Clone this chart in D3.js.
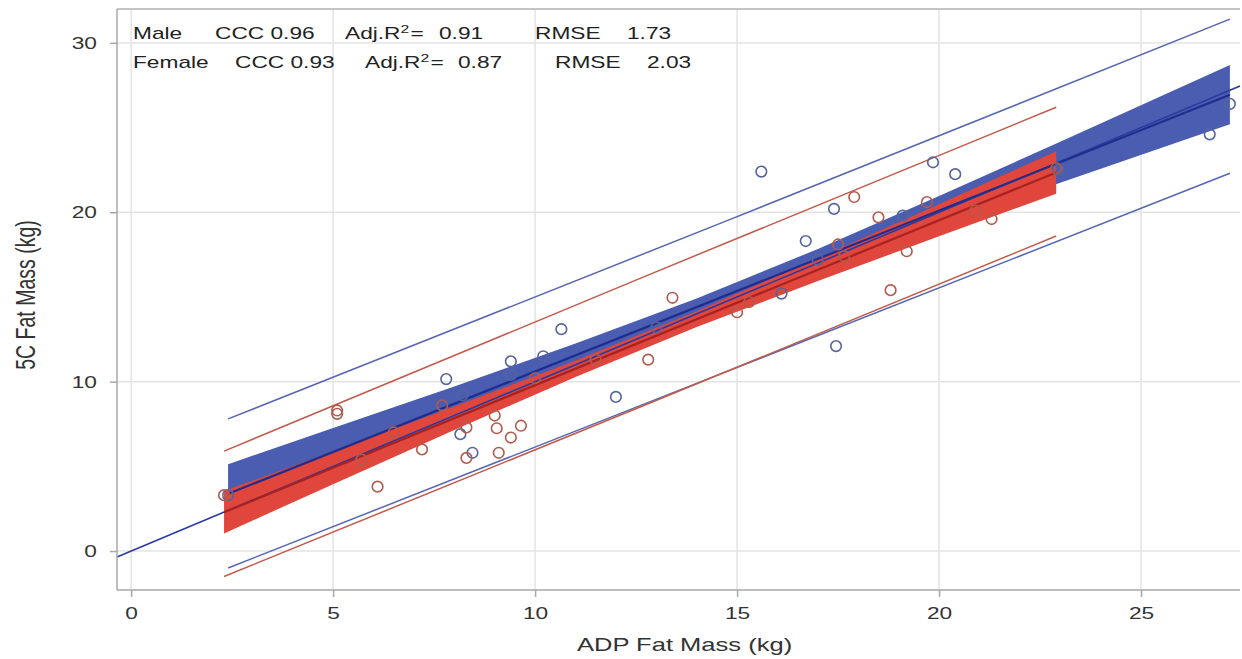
<!DOCTYPE html>
<html><head><meta charset="utf-8">
<script src="https://cdn.jsdelivr.net/npm/d3@7"></script>
<style>body{margin:0;background:#fff}svg{display:block}</style>
</head><body>
<svg id="c" width="1242" height="659"></svg>
<script>
// ---- data ----
const xTicks = [0, 5, 10, 15, 20, 25];
const yTicks = [0, 10, 20, 30];
const xDomain = [-0.35, 27.45];
const yDomain = [-2.3, 32.0];

const maleX = [2.4, 7.8, 8.2, 8.15, 8.45, 9.4, 9.4, 10.2, 10.65, 12.0, 13.0, 15.6, 16.1, 16.7, 17.0, 17.4, 17.45, 19.1, 19.85, 20.4, 22.95, 26.7, 27.2];
const maleY = [3.3, 10.15, 9.2, 6.9, 5.8, 11.2, 10.4, 11.5, 13.1, 9.1, 13.2, 22.4, 15.2, 18.3, 17.2, 20.2, 12.1, 19.8, 22.95, 22.25, 22.5, 24.6, 26.4];
const femaleX = [2.3, 5.1, 5.1, 5.7, 6.1, 6.5, 7.2, 7.7, 8.3, 8.3, 9.0, 9.05, 9.1, 9.4, 9.65, 10.0, 11.5, 12.8, 13.4, 15.0, 15.3, 17.5, 17.65, 17.9, 18.5, 18.8, 19.2, 19.7, 20.9, 21.3, 22.9];
const femaleY = [3.3, 8.3, 8.1, 5.4, 3.8, 7.0, 6.0, 8.6, 7.3, 5.5, 8.0, 7.25, 5.8, 6.7, 7.4, 10.2, 11.3, 11.3, 14.95, 14.1, 14.7, 18.1, 17.4, 20.9, 19.7, 15.4, 17.7, 20.6, 20.1, 19.6, 22.6];

// confidence bands (read at a few x positions)
const maleBandX = [2.4, 5, 8, 11, 14, 17, 20, 23, 27.2];
const maleBandLo = [1.63, 4.44, 7.68, 10.85, 13.89, 16.67, 19.24, 21.74, 25.19];
const maleBandHi = [5.13, 7.26, 9.72, 12.25, 14.91, 17.83, 20.96, 24.16, 28.69];
const femaleBandX = [2.3, 5, 8, 11, 14, 17, 20, 22.9];
const femaleBandLo = [1.04, 3.95, 7.15, 10.28, 13.22, 15.94, 18.58, 21.10];
const femaleBandHi = [3.54, 5.89, 8.53, 11.24, 14.16, 17.28, 20.48, 23.60];

// regression fit lines
const maleFitX = [2.4, 27.2], maleFitY = [3.38, 26.94];
const femaleFitX = [2.3, 22.9], femaleFitY = [2.29, 22.35];
// prediction limits
const malePredX = [2.4, 14.8, 27.2], malePredLo = [-1.0, 10.65, 22.3], malePredHi = [7.8, 19.55, 31.4];
const femalePredX = [2.3, 12.6, 22.9], femalePredLo = [-1.5, 8.5, 18.6], femalePredHi = [5.9, 16.1, 26.2];
// identity line
const identX = [-0.35, 27.45], identY = [-0.35, 27.45];

const statRows = [
  {label: "Male", ccc: "CCC 0.96", r2: "0.91", rmse: "1.73"},
  {label: "Female", ccc: "CCC 0.93", r2: "0.87", rmse: "2.03"}
];
const xTitle = "ADP Fat Mass (kg)";
const yTitle = "5C Fat Mass (kg)";

// ---- drawing ----
const svg = d3.select("#c");
const L = 117, R = 1240, T = 9, B = 590;
const x = d3.scaleLinear().domain(xDomain).range([L, R]);
const y = d3.scaleLinear().domain(yDomain).range([B, T]);
const SX = 1.42; // horizontal stretch of text in reference
const font = "'Liberation Sans', Arial, sans-serif";

// grid
const g = svg.append("g");
g.selectAll(".gx").data(xTicks).join("line")
  .attr("x1", d => x(d)).attr("x2", d => x(d)).attr("y1", T).attr("y2", B)
  .attr("stroke", "#e4e4e4").attr("stroke-width", 1.5);
g.selectAll(".gy").data(yTicks).join("line")
  .attr("y1", d => y(d)).attr("y2", d => y(d)).attr("x1", L).attr("x2", R)
  .attr("stroke", "#e4e4e4").attr("stroke-width", 1.5);

// bands
const zip = (xs, a) => xs.map((v, i) => [v, a[i]]);
const area = d3.area().x(d => x(d[0])).y0(d => y(d[1])).y1(d => y(d[2]));
svg.append("path").datum(maleBandX.map((v, i) => [v, maleBandLo[i], maleBandHi[i]]))
  .attr("d", area).attr("fill", "#4a5db1");
svg.append("path").datum(femaleBandX.map((v, i) => [v, femaleBandLo[i], femaleBandHi[i]]))
  .attr("d", area).attr("fill", "#e1463d");

const line = d3.line().x(d => x(d[0])).y(d => y(d[1]));
function ln(xs, ys, col, w) {
  svg.append("path").datum(zip(xs, ys)).attr("d", line)
    .attr("fill", "none").attr("stroke", col).attr("stroke-width", w);
}
ln(malePredX, malePredHi, "#5566b2", 1.5);
ln(malePredX, malePredLo, "#5566b2", 1.5);
ln(femalePredX, femalePredHi, "#c05a4a", 1.5);
ln(femalePredX, femalePredLo, "#c05a4a", 1.5);
ln(identX, identY, "#2a3aa0", 1.6);
ln(maleFitX, maleFitY, "#1f2e8e", 2.2);
ln(femaleFitX, femaleFitY, "#a82222", 2.2);

// markers
svg.append("g").selectAll("circle").data(zip(maleX, maleY)).join("circle")
  .attr("cx", d => x(d[0])).attr("cy", d => y(d[1])).attr("r", 5.3)
  .attr("fill", "none").attr("stroke", "#56649e").attr("stroke-width", 1.6);
svg.append("g").selectAll("circle").data(zip(femaleX, femaleY)).join("circle")
  .attr("cx", d => x(d[0])).attr("cy", d => y(d[1])).attr("r", 5.3)
  .attr("fill", "none").attr("stroke", "#b25a4c").attr("stroke-width", 1.6);

// frame
svg.append("line").attr("x1", L).attr("x2", R).attr("y1", T).attr("y2", T).attr("stroke", "#c4c4c4").attr("stroke-width", 2);
svg.append("line").attr("x1", L).attr("x2", L).attr("y1", T).attr("y2", B).attr("stroke", "#a8a8a8").attr("stroke-width", 1.5);
svg.append("line").attr("x1", L).attr("x2", R).attr("y1", B).attr("y2", B).attr("stroke", "#a8a8a8").attr("stroke-width", 1.5);

// axes
const xAxis = d3.axisBottom(x).tickValues(xTicks).tickSize(7).tickSizeOuter(0);
const yAxis = d3.axisLeft(y).tickValues(yTicks).tickSize(7).tickSizeOuter(0);
const ax = svg.append("g").attr("transform", `translate(0,${B})`).call(xAxis);
const ay = svg.append("g").attr("transform", `translate(${L},0)`).call(yAxis);
[ax, ay].forEach(a => {
  a.select(".domain").remove();
  a.selectAll(".tick line").attr("stroke", "#a8a8a8").attr("stroke-width", 1.5);
  a.selectAll(".tick text").attr("fill", "#333").attr("font-family", font).attr("font-size", 16);
});
ax.selectAll(".tick text").attr("dy", null).attr("y", 0)
  .attr("transform", `translate(0,29) scale(${SX},1)`);
ay.selectAll(".tick text").attr("x", 0).attr("dy", "0.35em")
  .attr("transform", `translate(-20,0) scale(${SX},1)`);

// titles
svg.append("text").attr("transform", `translate(${x(13.7)},651) scale(${SX},1)`)
  .attr("text-anchor", "middle").attr("font-family", font).attr("font-size", 18).attr("fill", "#333")
  .text(xTitle);
svg.append("text").attr("transform", `translate(35,295) scale(${SX},1) rotate(-90)`)
  .attr("text-anchor", "middle").attr("font-family", font).attr("font-size", 19.5).attr("fill", "#333")
  .text(yTitle);

// stats annotation
function t(xp, yp) {
  return svg.append("text").attr("transform", `translate(${xp},${yp}) scale(${SX},1)`)
    .attr("font-family", font).attr("font-size", 16).attr("fill", "#222");
}
const rowY = [39, 68];
const pos = [
  {lab: 133, ccc: 215, adj: 345, val: 439, rm: 535, rv: 627},
  {lab: 133, ccc: 235, adj: 365, val: 458, rm: 555, rv: 647}
];
statRows.forEach((r, i) => {
  const p = pos[i], yy = rowY[i];
  t(p.lab, yy).text(r.label);
  t(p.ccc, yy).text(r.ccc);
  const a = t(p.adj, yy);
  a.append("tspan").text("Adj.R");
  a.append("tspan").attr("font-size", 11).attr("dy", -6).text("2");
  a.append("tspan").attr("dy", 6).attr("dx", 1).text("=");
  t(p.val, yy).text(r.r2);
  t(p.rm, yy).text("RMSE");
  t(p.rv, yy).text(r.rmse);
});
</script>
</body></html>
